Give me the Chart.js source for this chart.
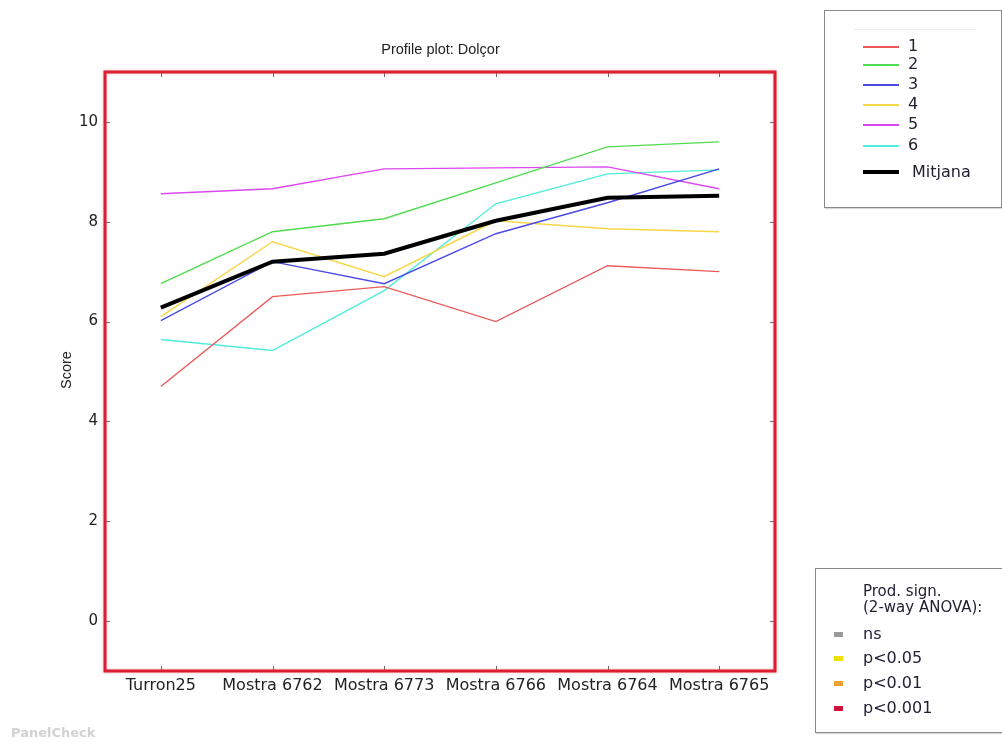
<!DOCTYPE html>
<html>
<head>
<meta charset="utf-8">
<script src="https://cdn.jsdelivr.net/npm/chart.js@4/dist/chart.umd.min.js"></script>
<style>
  html, body { margin: 0; padding: 0; background: #fff; }
  #wrap { position: relative; width: 1002px; height: 742px; overflow: hidden; }
  #chart { position: absolute; left: 0; top: 0; }
  .txt { position: absolute; white-space: nowrap; color: #222; }
  #title { left: 340px; width: 201px; top: 41px; text-align: center; font: 14.5px "Liberation Sans", Arial, sans-serif; }
  #ylab { left: 46px; top: 362px; width: 40px; text-align: center; font: 14.5px "Liberation Sans", Arial, sans-serif; transform: rotate(-90deg); }
  .box { position: absolute; background: #fff; border: 1px solid #8a8a8a; box-shadow: 1px 1px 1px rgba(0,0,0,0.15); }
  .sample { position: absolute; height: 2px; }
  .lg { position: absolute; font: 16px "DejaVu Sans", Verdana, sans-serif; color: #223; line-height: 16px; }
  .mk { position: absolute; width: 9px; height: 5px; }
  #wm { left: 11px; top: 725px; font: bold 13px "DejaVu Sans", sans-serif; color: #d2d2d2; }
</style>
</head>
<body>
<div id="wrap">
  <canvas id="chart" width="1002" height="742"></canvas>
  <div class="txt" id="title">Profile plot: Dolçor</div>
  <div class="txt" id="ylab">Score</div>
  <div class="box" id="legTop" style="left:824px; top:10px; width:176px; height:196px;"></div>
  <div class="box" id="legSig" style="left:815px; top:568px; width:190px; height:163px;"></div>
  <div class="txt" id="wm">PanelCheck</div>
</div>
<script>
// Products on the x axis
const products = ["Turron25", "Mostra 6762", "Mostra 6773", "Mostra 6766", "Mostra 6764", "Mostra 6765"];

// Scores given by each assessor
const assessor1 = [4.70, 6.50, 6.70, 6.00, 7.12, 7.00];
const assessor2 = [6.76, 7.80, 8.06, 8.78, 9.50, 9.60];
const assessor3 = [6.02, 7.20, 6.76, 7.76, 8.38, 9.06];
const assessor4 = [6.10, 7.60, 6.90, 8.02, 7.86, 7.80];
const assessor5 = [8.56, 8.66, 9.06, 9.08, 9.10, 8.66];
const assessor6 = [5.64, 5.42, 6.62, 8.36, 8.96, 9.04];
const mitjana   = [6.28, 7.20, 7.36, 8.02, 8.48, 8.52];

const assessorNames = ["1", "2", "3", "4", "5", "6"];
const assessorColors = ["#ec5a5a", "#4fdc4f", "#4a4ae6", "#f8d648", "#dc48f0", "#50ecdc"];
const yTicks = [0, 2, 4, 6, 8, 10];

const sigLabels = ["ns", "p<0.05", "p<0.01", "p<0.001"];
const sigColors = ["#9a9a9a", "#f2e000", "#f0a030", "#d0103a"];

const assessorData = [assessor1, assessor2, assessor3, assessor4, assessor5, assessor6];

const datasets = assessorData.map((vals, i) => ({
  label: assessorNames[i],
  data: vals,
  borderColor: assessorColors[i],
  borderWidth: 1.4,
  pointRadius: 0,
  tension: 0,
  order: 1
}));
datasets.push({
  label: "Mitjana",
  data: mitjana,
  borderColor: "#000",
  borderWidth: 4,
  pointRadius: 0,
  tension: 0,
  order: 0
});

// Inner tick marks and the red frame around the plot area
const framePlugin = {
  id: "frame",
  afterDatasetsDraw(chart) {
    const { ctx, chartArea: a, scales: { x, y } } = chart;
    ctx.save();
    ctx.strokeStyle = "#666";
    ctx.lineWidth = 1;
    ctx.beginPath();
    products.forEach((p, i) => {
      const px = Math.round(x.getPixelForValue(i)) + 0.5;
      ctx.moveTo(px, a.top); ctx.lineTo(px, a.top + 5);
      ctx.moveTo(px, a.bottom); ctx.lineTo(px, a.bottom - 5);
    });
    yTicks.forEach(v => {
      const py = Math.round(y.getPixelForValue(v)) + 0.5;
      ctx.moveTo(a.left, py); ctx.lineTo(a.left + 5, py);
      ctx.moveTo(a.right, py); ctx.lineTo(a.right - 5, py);
    });
    ctx.stroke();
    ctx.shadowColor = "rgba(235,80,80,0.45)";
    ctx.shadowBlur = 3;
    ctx.strokeStyle = "#dc1e32";
    ctx.lineWidth = 3;
    ctx.strokeRect(a.left, a.top, a.right - a.left, a.bottom - a.top);
    ctx.restore();
  }
};

new Chart(document.getElementById("chart"), {
  type: "line",
  data: { labels: products, datasets },
  options: {
    responsive: false,
    animation: false,
    layout: { padding: { left: 0, right: 227, top: 72, bottom: 31 } },
    plugins: { legend: { display: false }, tooltip: { enabled: false }, title: { display: false } },
    scales: {
      x: {
        offset: true,
        grid: { display: false, drawTicks: false },
        border: { display: false },
        ticks: { color: "#222", padding: 5, maxRotation: 0, autoSkip: false,
                 font: { family: "DejaVu Sans", size: 16 } },
        afterFit: s => { s.height = 40; }
      },
      y: {
        min: -1, max: 11,
        grid: { display: false, drawTicks: false },
        border: { display: false },
        ticks: { color: "#222", padding: 7, font: { family: "DejaVu Sans", size: 15 } },
        afterBuildTicks: s => { s.ticks = yTicks.map(v => ({ value: v })); },
        afterFit: s => { s.width = 105; }
      }
    }
  },
  plugins: [framePlugin]
});

// Assessor legend (top right)
const legTop = document.getElementById("legTop");
const sep = document.createElement("div");
sep.style.cssText = "position:absolute;left:29px;top:18px;width:122px;height:1px;background:#eee;";
legTop.appendChild(sep);
const rowsY = [36, 54, 74, 94, 114, 135];
assessorNames.forEach((n, i) => {
  const s = document.createElement("div");
  s.className = "sample";
  s.style.cssText += `left:38px;top:${rowsY[i] - 1}px;width:36px;background:${assessorColors[i]};`;
  legTop.appendChild(s);
  const t = document.createElement("div");
  t.className = "lg";
  t.style.cssText += `left:83px;top:${rowsY[i] - 9}px;`;
  t.textContent = n;
  legTop.appendChild(t);
});
const ms = document.createElement("div");
ms.className = "sample";
ms.style.cssText += "left:38px;top:159px;width:36px;height:4px;background:#000;";
legTop.appendChild(ms);
const mt = document.createElement("div");
mt.className = "lg";
mt.style.cssText += "left:87px;top:153px;";
mt.textContent = "Mitjana";
legTop.appendChild(mt);

// Significance legend (bottom right)
const legSig = document.getElementById("legSig");
const head = document.createElement("div");
head.className = "lg";
head.style.cssText += "left:47px;top:14px;font-size:15px;line-height:16px;";
head.innerHTML = "Prod. sign.<br>(2-way ANOVA):";
legSig.appendChild(head);
const sigY = [66, 90, 115, 140];
sigLabels.forEach((l, i) => {
  const m = document.createElement("div");
  m.className = "mk";
  m.style.cssText += `left:18px;top:${sigY[i] - 3}px;background:${sigColors[i]};`;
  legSig.appendChild(m);
  const t = document.createElement("div");
  t.className = "lg";
  t.style.cssText += `left:47px;top:${sigY[i] - 9}px;`;
  t.textContent = l;
  legSig.appendChild(t);
});
</script>
</body>
</html>
